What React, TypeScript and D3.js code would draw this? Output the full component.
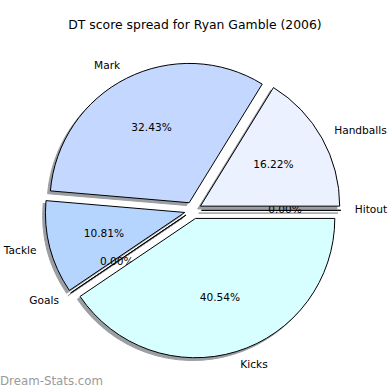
import * as d3 from "d3";

const categories = ["Hitout", "Handballs", "Mark", "Tackle", "Goals", "Kicks"];
const scores = [0, 6, 12, 4, 0, 15];
const colors = ["#e0e8ff", "#ebf1ff", "#c4d8ff", "#b5d5ff", "#cce6ff", "#d8ffff"];

const width = 390;
const height = 390;

export default function App() {
  const cx = 193;
  const cy = 210.3;
  const radius = 139.3;
  const explode = 0.061 * radius;
  const shadowOffset = 0.02 * radius;

  // counter-clockwise from 3 o'clock, like the original
  const pie = d3
    .pie<number>()
    .sort(null)
    .startAngle(Math.PI / 2)
    .endAngle(Math.PI / 2 - 2 * Math.PI);
  const slices = pie(scores);

  const arc = d3.arc<d3.PieArcDatum<number>>().innerRadius(0).outerRadius(radius);
  const total = d3.sum(scores);

  const offsetOf = (s: d3.PieArcDatum<number>) => {
    const mid = (s.startAngle + s.endAngle) / 2;
    return { dx: Math.sin(mid), dy: -Math.cos(mid) };
  };

  const font = "DejaVu Sans, sans-serif";

  return (
    <svg
      width={width}
      height={height}
      style={{ position: "absolute", left: 0, top: 0, background: "#fff" }}
    >
      <text x={195} y={25} textAnchor="middle" dominantBaseline="middle" fontFamily={font} fontSize={12.4}>
        DT score spread for Ryan Gamble (2006)
      </text>

      {/* shadows below every wedge */}
      {slices.map((s, i) => {
        const { dx, dy } = offsetOf(s);
        return (
          <path
            key={"sh" + i}
            d={arc(s) || ""}
            transform={`translate(${cx + dx * explode - shadowOffset}, ${cy + dy * explode + shadowOffset})`}
            fill="#9b9ea3"
            stroke="#9b9ea3"
            strokeWidth={1}
          />
        );
      })}

      {slices.map((s, i) => {
        const { dx, dy } = offsetOf(s);
        const ox = cx + dx * explode;
        const oy = cy + dy * explode;
        const lx = ox + dx * radius * 1.1;
        const ly = oy + dy * radius * 1.1;
        const px = ox + dx * radius * 0.6;
        const py = oy + dy * radius * 0.6;
        const pct = ((scores[i] / total) * 100).toFixed(2) + "%";
        return (
          <g key={"w" + i}>
            <path
              d={arc(s) || ""}
              transform={`translate(${ox}, ${oy})`}
              fill={colors[i]}
              stroke="#000"
              strokeWidth={1}
              strokeLinejoin="round"
            />
            <text
              x={lx}
              y={ly}
              textAnchor={dx > 0 ? "start" : "end"}
              dominantBaseline="middle"
              fontFamily={font}
              fontSize={10.6}
            >
              {categories[i]}
            </text>
            <text
              x={px}
              y={py}
              textAnchor="middle"
              dominantBaseline="middle"
              fontFamily={font}
              fontSize={10.6}
            >
              {pct}
            </text>
          </g>
        );
      })}

      <text x={0} y={381} dominantBaseline="middle" fontFamily={font} fontSize={11.8} fill="#9a9a9a">
        Dream-Stats.com
      </text>
    </svg>
  );
}
